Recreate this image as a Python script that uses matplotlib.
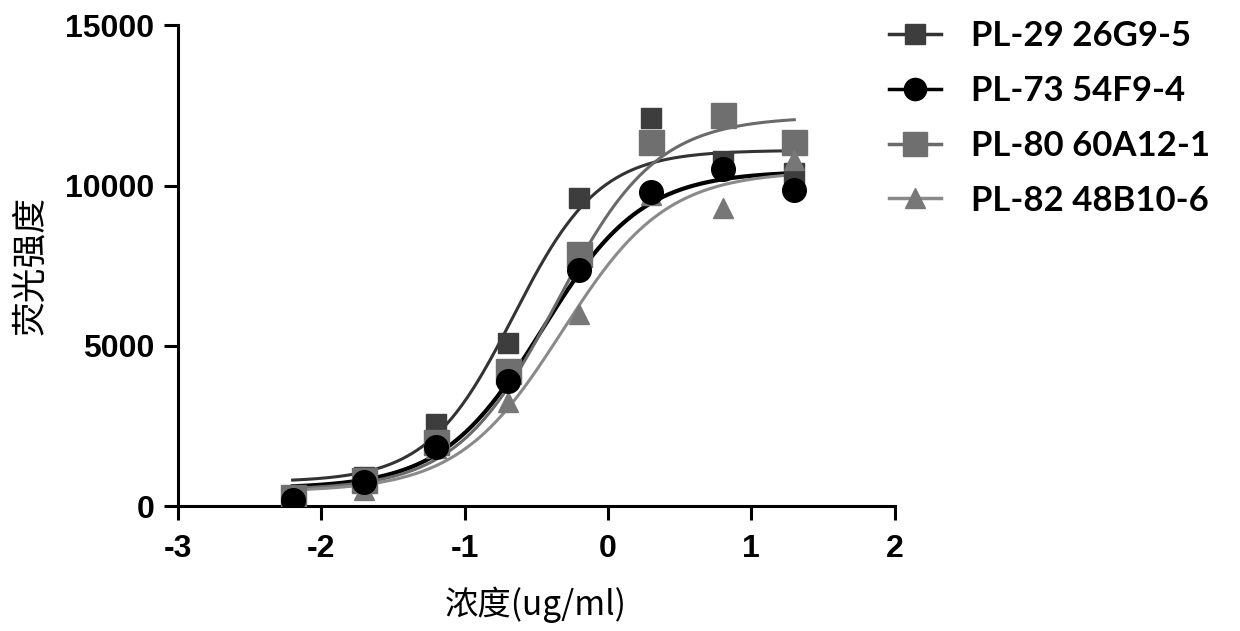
import matplotlib.pyplot as plt
import numpy as np

log_conc = [-2.2, -1.7, -1.2, -0.7, -0.2, 0.3, 0.8, 1.3]

names = ["PL-29 26G9-5", "PL-73 54F9-4", "PL-80 60A12-1", "PL-82 48B10-6"]
pl29 = [250, 900, 2550, 5100, 9600, 12100, 10750, 10400]
pl73 = [200, 750, 1850, 3900, 7350, 9800, 10500, 9850]
pl80 = [280, 800, 2000, 4200, 7850, 11350, 12200, 11350]
pl82 = [200, 500, 1800, 3250, 6000, 9700, 9300, 10800]

# fitted 4PL curves: bottom, top, logEC50, hill
fit29 = [750, 11100, -0.66, 1.45]
fit73 = [550, 10450, -0.46, 1.25]
fit80 = [500, 12150, -0.36, 1.25]
fit82 = [450, 10450, -0.32, 1.2]

markers = ["s", "o", "s", "^"]
msizes = [15, 17, 18, 15]
mcolors = ["#3d3d3d", "#000000", "#6f6f6f", "#777777"]
lcolors = ["#333333", "#000000", "#6a6a6a", "#8a8a8a"]
lwidths = [2.2, 3.0, 2.2, 2.2]

plt.rcParams["font.family"] = ["Liberation Sans", "DejaVu Sans"]
plt.rcParams["axes.unicode_minus"] = False

fig = plt.figure(figsize=(12.4, 6.31), dpi=100)
ax = fig.add_axes([0.1435, 0.198, 0.578, 0.762])

xs = np.linspace(log_conc[0], log_conc[-1], 300)
series = [pl29, pl73, pl80, pl82]
fits = [fit29, fit73, fit80, fit82]
for i in range(4):
    b, t, ec, h = fits[i]
    curve = b + (t - b) / (1 + 10 ** ((ec - xs) * h))
    ax.plot(xs, curve, color=lcolors[i], lw=lwidths[i], zorder=2)
for i in range(4):
    ax.plot(log_conc, series[i], ls="none", marker=markers[i], ms=msizes[i],
            color=mcolors[i], mec=mcolors[i], zorder=3 + (i == 1))
    ax.plot([], [], color=lcolors[i], lw=2.5, marker=markers[i], ms=msizes[i] - 1,
            mfc=mcolors[i], mec=mcolors[i], label=names[i])

ax.set_xlim(-3, 2)
ax.set_ylim(0, 15000)
ax.set_xticks([-3, -2, -1, 0, 1, 2])
ax.set_yticks([0, 5000, 10000, 15000])
ax.spines["top"].set_visible(False)
ax.spines["right"].set_visible(False)
for s in ["left", "bottom"]:
    ax.spines[s].set_linewidth(2.2)
ax.tick_params(width=2.2, length=10, labelsize=23, pad=7)
ax.tick_params(axis="x", pad=10)
for lbl in ax.get_xticklabels() + ax.get_yticklabels():
    lbl.set_fontweight("bold")

ax.set_xlabel("浓度(ug/ml)", family=["Noto Sans CJK SC"], fontsize=24, labelpad=16)
ax.set_ylabel("荧光强度", family=["Noto Sans CJK SC"], fontsize=25, labelpad=12)

leg = fig.legend(loc="upper left", bbox_to_anchor=(0.692, 1.018), frameon=False,
                 handlelength=1.5, handletextpad=0.85, labelspacing=0.66,
                 prop={"family": "Lato", "weight": "bold", "size": 25})

fig.savefig("out.png", dpi=100)
